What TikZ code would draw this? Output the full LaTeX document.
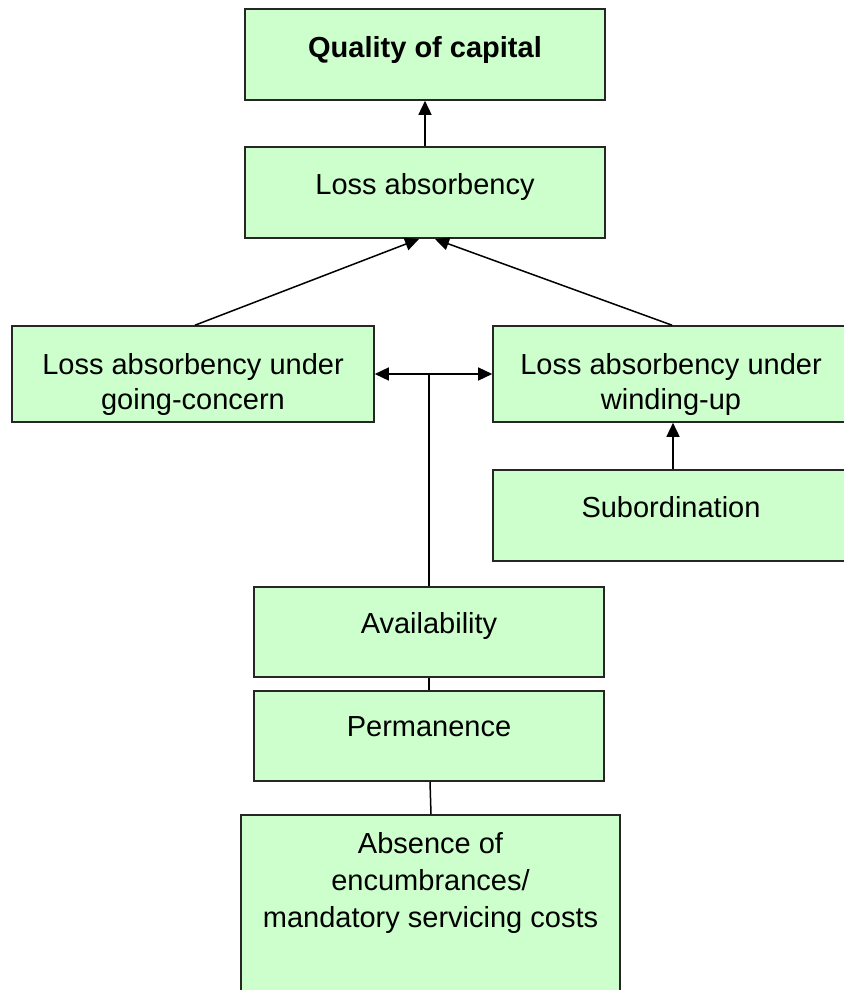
\documentclass[tikz,border=0pt]{standalone}
\usepackage{fontspec}
\setmainfont{Liberation Sans}
\usetikzlibrary{calc,arrows.meta}
\definecolor{boxgreen}{HTML}{CCFFCC}
\tikzset{
  box/.style={draw=black!85, fill=boxgreen, line width=1.6pt, inner sep=0pt, rectangle},
  lbl/.style={inner sep=0pt, align=center, anchor=north, font=\fontsize{29pt}{35pt}\selectfont},
  conn/.style={line width=1.5pt, draw=black},
  arr/.style={conn, -{Triangle[length=14pt,width=13pt]}},
  darr/.style={conn, {Triangle[length=14pt,width=13pt]}-{Triangle[length=14pt,width=13pt]}}
}
\newcommand{\bx}[5]{\node[box, minimum width={#4-#2}, minimum height={#5-#3}] (#1) at ({(#2+#4)/2},{(#3+#5)/2}) {};}
\begin{document}
\begin{tikzpicture}[x=1pt,y=-1pt]
\useasboundingbox (0,0) rectangle (843,990);
\bx{Q}{245}{9}{605}{100}
\bx{LA}{245}{147}{605}{238}
\bx{GC}{12}{326}{374}{422}
\bx{WU}{493}{326}{853}{422}
\bx{SUB}{493}{470}{853}{561}
\bx{AV}{254}{587}{604}{677}
\bx{PE}{254}{691}{604}{781}
\bx{AB}{241}{815}{620}{1005}

\node[lbl, font=\fontsize{29pt}{35pt}\selectfont\bfseries] (tQ) at ($(Q.north)+(0,28)$) {Quality of capital};
\node[lbl] (tLA) at ($(LA.north)+(0,27)$) {Loss absorbency};
\node[lbl] (tGC) at ($(GC.north)+(0,28)$) {Loss absorbency under\\going-concern};
\node[lbl] (tWU) at ($(WU.north)+(-2,28)$) {Loss absorbency under\\winding-up};
\node[lbl] (tSUB) at ($(SUB.north)+(-2,27)$) {Subordination};
\node[lbl] (tAV) at ($(AV.north)+(0,26)$) {Availability};
\node[lbl] (tPE) at ($(PE.north)+(0,26)$) {Permanence};
\node[lbl, font=\fontsize{29pt}{37pt}\selectfont] (tAB) at ($(AB.north)+(0,18)$) {Absence of\\encumbrances/\\mandatory servicing costs};

\coordinate (tipL) at (419,239);
\coordinate (tipR) at (435,239);
\coordinate (junc) at (429,374);

\draw[arr] (LA.north) -- (Q.south);
\draw[arr] (GC.north -| 195,0) -- (tipL);
\draw[arr] (WU.north -| 672,0) -- (tipR);
\draw[darr] (GC.east |- junc) -- (WU.west |- junc);
\draw[conn] (AV.north -| junc) -- (junc);
\draw[conn] (AV.south -| junc) -- (PE.north -| junc);
\draw[conn] (PE.south -| 430,0) -- (AB.north -| 431,0);
\draw[arr] (SUB.north -| 673,0) -- (WU.south -| 673,0);
\end{tikzpicture}
\end{document}
